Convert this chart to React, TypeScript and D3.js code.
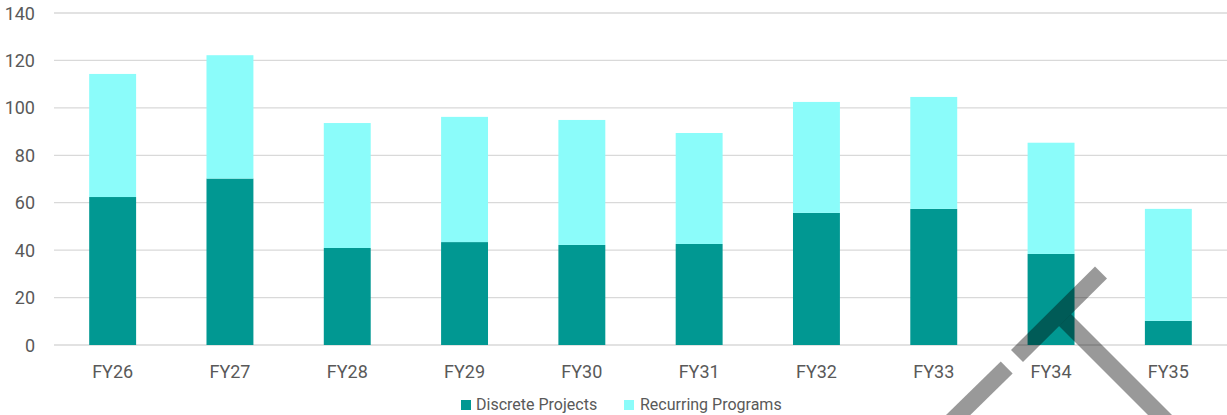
import React from "react";
import * as d3 from "d3";

const categories = ["FY26", "FY27", "FY28", "FY29", "FY30", "FY31", "FY32", "FY33", "FY34", "FY35"];
const discreteProjects = [62.4, 70.2, 40.9, 43.4, 42.2, 42.6, 55.7, 57.4, 38.4, 10.2];
const recurringPrograms = [51.9, 52.0, 52.7, 52.8, 52.7, 46.8, 46.8, 47.2, 46.9, 47.2];
const yTicks = [0, 20, 40, 60, 80, 100, 120, 140];
const seriesNames = ["Discrete Projects", "Recurring Programs"];
const seriesColors = ["#019892", "#8BFCFA"];

const W = 1227;
const H = 415;
const FONT = "Roboto, 'Noto Sans', sans-serif";
const TEXT = "#595959";

export default function App() {
  React.useEffect(() => {
    document.body.style.margin = "0";
  }, []);

  const x = d3
    .scaleBand<string>()
    .domain(categories)
    .range([54, W])
    .paddingInner(0.6)
    .paddingOuter(0.3);
  const y = d3.scaleLinear().domain([0, 140]).range([345, 13]);

  const rows = categories.map((c, i) => ({
    cat: c,
    discrete: discreteProjects[i],
    recurring: recurringPrograms[i],
  }));
  const stack = d3.stack<any>().keys(["discrete", "recurring"]);
  const layers = stack(rows);

  const legendItems = [
    { sq: 461, tx: 476 },
    { sq: 624, tx: 640 },
  ];

  return (
    <div style={{ position: "absolute", left: 0, top: 0 }}>
      <svg width={W} height={H} style={{ display: "block", background: "#fff" }}>
        {yTicks.map((t) => (
          <g key={t}>
            <line x1={54} x2={W} y1={y(t)} y2={y(t)} stroke="#D9D9D9" strokeWidth={1.3} />
            <text
              x={35}
              y={y(t)}
              textAnchor="end"
              dominantBaseline="central"
              fontFamily={FONT}
              fontSize={18}
              fill={TEXT}
            >
              {t}
            </text>
          </g>
        ))}
        {layers.map((layer, li) => (
          <g key={li} fill={seriesColors[li]}>
            {layer.map((d: any, i: number) => (
              <rect
                key={i}
                x={x(categories[i])}
                y={y(d[1])}
                width={x.bandwidth()}
                height={y(d[0]) - y(d[1])}
              />
            ))}
          </g>
        ))}
        {categories.map((c) => (
          <text
            key={c}
            x={(x(c) as number) + x.bandwidth() / 2}
            y={378}
            textAnchor="middle"
            fontFamily={FONT}
            fontSize={18}
            fill={TEXT}
          >
            {c}
          </text>
        ))}
        {seriesNames.map((n, i) => (
          <g key={n}>
            <rect x={legendItems[i].sq} y={400} width={10} height={10} fill={seriesColors[i]} />
            <text x={legendItems[i].tx} y={409.5} fontFamily={FONT} fontSize={16} fill={TEXT}>
              {n}
            </text>
          </g>
        ))}
        <g stroke="rgba(0,0,0,0.4)" strokeWidth={17} strokeLinecap="butt">
          <line x1={950} y1={423} x2={1006.7} y2={367.5} />
          <line x1={1017} y1={356} x2={1101} y2={272.5} />
          <line x1={1065} y1={320} x2={1168} y2={423} />
        </g>
      </svg>
    </div>
  );
}
